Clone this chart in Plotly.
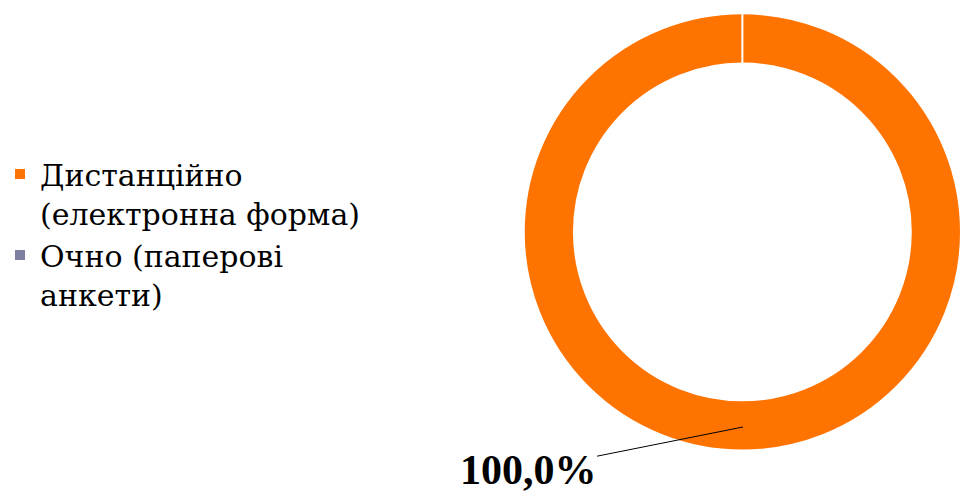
import plotly.graph_objects as go

labels = ["Дистанційно<br>(електронна форма)", "Очно (паперові<br>анкети)"]
values = [100.0, 0.0]
colors = ["#FF7300", "#7F7F9F"]
label_text = "100,0%"

SERIF = "Liberation Serif, serif"
LEG_FONT = "DejaVu Serif"

fig = go.Figure()
fig.add_trace(go.Pie(
    labels=labels,
    values=values,
    hole=0.77,
    sort=False,
    direction="clockwise",
    rotation=0,
    marker=dict(colors=colors, line=dict(color="white", width=2)),
    textinfo="none",
    hoverinfo="label+percent",
    domain=dict(x=[0.545, 1.0], y=[0.081, 0.978]),
    showlegend=True,
))

fig.add_annotation(
    x=0.7732, y=0.1339, xref="paper", yref="paper",
    text="<b>" + label_text + "</b>",
    showarrow=True, arrowhead=0, arrowwidth=1, arrowcolor="#000000",
    ax=-215, ay=43, borderpad=0,
    font=dict(family=SERIF, size=42, color="#000000"),
)

fig.update_layout(
    width=961, height=493,
    margin=dict(l=0, r=0, t=0, b=0),
    paper_bgcolor="white", plot_bgcolor="white",
    font=dict(family=LEG_FONT, size=30, color="#000000"),
    legend=dict(x=0.0, y=0.70, xanchor="left", yanchor="top",
                valign="top", tracegroupgap=0,
                font=dict(family=LEG_FONT, size=30, color="#000000")),
)

fig.write_html("out.html", config={"displayModeBar": False},
               post_script="document.body.style.margin='0';")
